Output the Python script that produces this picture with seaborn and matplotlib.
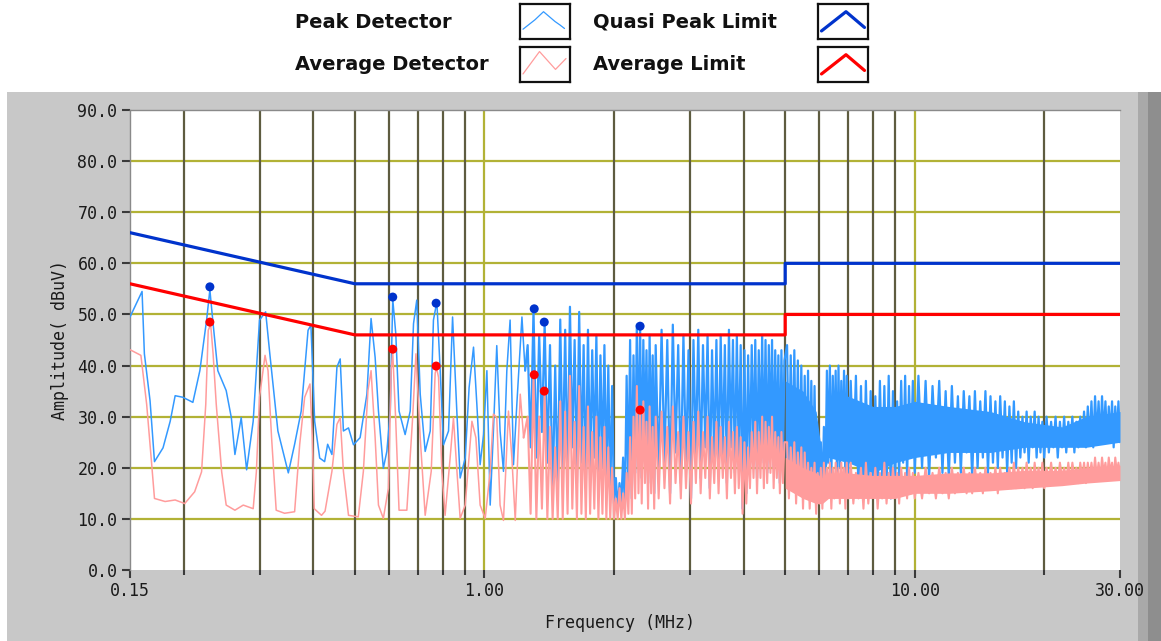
import matplotlib
matplotlib.use("Agg")
import matplotlib.pyplot as plt
from matplotlib.patches import Rectangle
from matplotlib.ticker import FixedLocator, NullFormatter
import pandas as pd
import seaborn as sns


# scan below 1.25 MHz, read peak by peak from the trace
lf_peak_freq = [0.150, 0.160, 0.162, 0.167, 0.171, 0.179, 0.186, 0.191, 0.199, 0.210,
                0.218, 0.226, 0.230, 0.234, 0.240, 0.251, 0.258, 0.263, 0.272, 0.280,
                0.290, 0.300, 0.310, 0.317, 0.331, 0.350, 0.362, 0.375, 0.389, 0.395,
                0.403, 0.414, 0.425, 0.432, 0.442, 0.454, 0.462, 0.470, 0.483, 0.496,
                0.514, 0.533, 0.545, 0.557, 0.567, 0.582, 0.593, 0.604, 0.612, 0.622,
                0.633, 0.654, 0.672, 0.684, 0.696, 0.709, 0.728, 0.748, 0.761, 0.775,
                0.789, 0.803, 0.825, 0.843, 0.863, 0.878, 0.902, 0.921, 0.943, 0.960,
                0.977, 0.995, 1.013, 1.031, 1.049, 1.068, 1.087, 1.107, 1.127, 1.147,
                1.168, 1.189, 1.222, 1.243]
lf_peak_dbuv = [49.5, 54.5, 42.3, 33.1, 21.2, 23.9, 29.1, 34.1, 33.8, 32.8,
                39.0, 48.9, 54.8, 48.2, 39.0, 35.1, 29.8, 22.6, 29.8, 19.6,
                29.1, 48.9, 50.5, 42.3, 27.2, 19.0, 24.6, 31.1, 46.9, 47.9,
                29.1, 21.9, 21.2, 24.6, 22.6, 39.7, 41.3, 27.2, 27.8, 24.5,
                25.9, 34.4, 49.2, 41.6, 31.1, 19.9, 23.2, 31.1, 53.0, 46.3,
                31.1, 26.5, 31.1, 48.2, 52.8, 34.4, 23.2, 27.2, 48.9, 52.5,
                39.0, 24.5, 27.2, 49.5, 30.5, 18.0, 21.9, 35.7, 43.6, 32.4,
                20.6, 26.5, 39.0, 12.7, 27.2, 43.9, 27.2, 19.3, 39.0, 48.9,
                20.6, 32.4, 49.5, 39.0]

lf_avg_freq = [0.150, 0.159, 0.164, 0.168, 0.171, 0.181, 0.191, 0.201, 0.212, 0.220,
               0.225, 0.228, 0.231, 0.234, 0.238, 0.245, 0.251, 0.263, 0.275, 0.290,
               0.295, 0.300, 0.309, 0.314, 0.320, 0.328, 0.343, 0.362, 0.372, 0.382,
               0.393, 0.398, 0.402, 0.418, 0.426, 0.442, 0.454, 0.462, 0.470, 0.483,
               0.509, 0.523, 0.536, 0.545, 0.557, 0.567, 0.582, 0.598, 0.607, 0.612,
               0.622, 0.633, 0.660, 0.680, 0.693, 0.709, 0.728, 0.752, 0.768, 0.774,
               0.782, 0.796, 0.810, 0.832, 0.847, 0.863, 0.878, 0.902, 0.935, 0.955,
               0.977, 1.004, 1.031, 1.049, 1.068, 1.087, 1.107, 1.137, 1.158, 1.179,
               1.211, 1.233]
lf_avg_dbuv = [43.1, 42.0, 32.4, 21.9, 14.0, 13.4, 13.7, 13.0, 15.3, 19.2,
               32.4, 46.9, 48.0, 42.3, 32.4, 19.2, 12.7, 11.7, 12.7, 12.0,
               19.2, 33.8, 42.0, 39.0, 25.9, 11.7, 11.1, 11.4, 24.6, 33.8,
               36.4, 25.9, 12.0, 10.7, 11.5, 19.3, 28.5, 29.8, 19.3, 10.7,
               10.4, 19.3, 35.1, 39.0, 25.9, 12.7, 10.1, 16.0, 39.0, 42.6,
               29.1, 11.7, 11.7, 29.1, 42.3, 25.9, 10.7, 19.3, 38.5, 39.5,
               37.7, 19.3, 10.7, 21.9, 29.8, 19.3, 10.1, 12.7, 29.1, 25.9,
               12.7, 10.1, 19.3, 30.5, 29.8, 12.7, 9.7, 31.1, 21.9, 9.7,
               34.4, 25.9]

# dense part of the scan, both detectors on the same frequencies
hf_freq = [1.26, 1.28, 1.30, 1.32, 1.34, 1.36, 1.38, 1.40, 1.42, 1.44, 1.46, 1.48, 1.50,
           1.52, 1.54, 1.56, 1.58, 1.60, 1.62, 1.64, 1.66, 1.68, 1.70, 1.72, 1.74, 1.76,
           1.78, 1.80, 1.82, 1.84, 1.86, 1.88, 1.90, 1.92, 1.94, 1.96, 1.98, 2.00,
           2.02, 2.04, 2.06, 2.08, 2.10, 2.12, 2.14, 2.16, 2.18, 2.20, 2.22, 2.24, 2.26,
           2.28, 2.30, 2.32, 2.34, 2.36, 2.38, 2.40, 2.42, 2.44, 2.46, 2.48, 2.50,
           2.54, 2.58, 2.62, 2.66, 2.70, 2.74, 2.78, 2.82, 2.86, 2.90,
           2.94, 2.98, 3.02, 3.06, 3.10, 3.14, 3.18, 3.22, 3.26, 3.30,
           3.34, 3.38, 3.42, 3.46, 3.50, 3.54, 3.58, 3.62, 3.66, 3.70,
           3.74, 3.78, 3.82, 3.86, 3.90, 3.94, 3.98, 4.02, 4.06, 4.10,
           4.14, 4.18, 4.22, 4.26, 4.30, 4.34, 4.38, 4.42, 4.46, 4.50,
           4.54, 4.58, 4.62, 4.66, 4.70, 4.74, 4.78, 4.82, 4.86, 4.90, 4.94, 4.98,
           5.05, 5.10, 5.15, 5.20, 5.25, 5.30, 5.35, 5.40, 5.45, 5.50,
           5.55, 5.60, 5.65, 5.70, 5.75, 5.80, 5.85, 5.90, 5.95, 6.00,
           6.05, 6.10, 6.15, 6.20, 6.25, 6.30, 6.35, 6.40, 6.45, 6.50,
           6.55, 6.60, 6.65, 6.70, 6.75, 6.80, 6.85, 6.90, 6.95, 7.00,
           7.1, 7.2, 7.3, 7.4, 7.5, 7.6, 7.7, 7.8, 7.9, 8.0,
           8.1, 8.2, 8.3, 8.4, 8.5, 8.6, 8.7, 8.8, 8.9, 9.0,
           9.1, 9.2, 9.3, 9.4, 9.5, 9.6, 9.7, 9.8, 9.9, 10.0,
           10.2, 10.4, 10.6, 10.8, 11.0, 11.2, 11.4, 11.6, 11.8, 12.0,
           12.2, 12.4, 12.6, 12.8, 13.0, 13.2, 13.4, 13.6, 13.8, 14.0,
           14.2, 14.4, 14.6, 14.8, 15.0, 15.2, 15.4, 15.6, 15.8, 16.0,
           16.2, 16.4, 16.6, 16.8, 17.0, 17.2, 17.4, 17.6, 17.8, 18.0,
           18.2, 18.4, 18.6, 18.8, 19.0, 19.2, 19.4, 19.6, 19.8, 20.0,
           20.25, 20.50, 20.75, 21.00, 21.25, 21.50, 21.75, 22.00, 22.25, 22.50,
           22.75, 23.00, 23.25, 23.50, 23.75, 24.00, 24.25, 24.50, 24.75, 25.00,
           25.25, 25.50, 25.75, 26.00, 26.25, 26.50, 26.75, 27.00, 27.25, 27.50,
           27.75, 28.00, 28.25, 28.50, 28.75, 29.00, 29.25, 29.50, 29.75, 30.00]
hf_peak_dbuv = [44, 24, 50.8, 22, 46, 27, 48.2, 21, 44, 14, 40, 15, 49,
                20, 47, 18, 51.5, 24, 45, 17, 50.5, 21, 44, 16, 47, 19,
                43, 22, 46, 15, 42, 20, 44, 17, 40, 14, 36, 13,
                18, 12, 17, 13, 22, 12, 38, 16, 45, 14, 42, 19, 48,
                22, 47.5, 18, 45, 25, 43, 17, 46, 20, 42, 15, 44,
                18, 47, 21, 45, 15, 48, 23, 44, 17, 46,
                20, 43, 14, 45, 22, 47, 18, 44, 24, 46,
                16, 43, 21, 45, 19, 46, 22, 44, 17, 47,
                24, 45, 19, 46, 21, 44, 12, 43, 15, 42,
                20, 44, 23, 45, 18, 43, 24, 46, 21, 45,
                19, 44, 25, 45, 20, 43, 22, 42, 17, 43, 21, 41,
                44, 19, 42, 20, 43, 18, 41, 17, 40, 16,
                38, 17, 39, 15, 37, 16, 36, 14, 27, 15,
                25, 14, 28, 16, 39, 21, 40, 18, 38, 23,
                39, 17, 40, 20, 37, 22, 39, 16, 38, 19,
                37, 21, 38, 15, 36, 14, 37, 16, 35, 15,
                34, 14, 37, 18, 36, 15, 38, 14, 35, 17,
                33, 18, 37, 21, 38, 18, 36, 22, 37, 19,
                38, 20, 37, 18, 36, 22, 37, 19, 35, 18,
                36, 21, 34, 19, 35, 23, 34, 18, 35, 20,
                33, 22, 35, 19, 34, 21, 33, 20, 34, 22,
                33, 19, 32, 21, 33, 20, 31, 22, 30, 23,
                31, 21, 30, 24, 31, 22, 30, 23, 29, 22,
                30, 23, 29, 24, 30, 22, 29, 24, 30, 23,
                29, 25, 30, 23, 29, 24, 30, 25, 31, 24,
                32, 25, 33, 24, 34, 26, 33, 25, 34, 26,
                33, 25, 32, 26, 33, 24, 32, 26, 33, 25]
hf_avg_dbuv = [30, 11, 37.8, 10, 30, 12, 34.6, 10, 28, 10, 24, 10, 33,
               10, 31, 11, 38, 12, 29, 10, 36, 11, 28, 10, 32, 11,
               27, 12, 30, 10, 26, 11, 28, 10, 24, 10, 20, 10,
               14, 10, 16, 10, 15, 10, 19, 11, 26, 11, 30, 14, 36,
               15, 31, 13, 33, 17, 29, 12, 32, 15, 28, 12, 30,
               14, 31, 16, 28, 13, 32, 17, 27, 14, 30,
               16, 27, 13, 29, 17, 31, 15, 27, 18, 30,
               14, 26, 17, 29, 15, 28, 18, 26, 14, 29,
               18, 27, 15, 28, 16, 26, 11, 25, 13, 24,
               16, 27, 18, 29, 15, 27, 18, 30, 16, 29,
               17, 28, 19, 30, 16, 27, 18, 26, 15, 27, 17, 25,
               25, 14, 24, 16, 25, 13, 23, 15, 24, 12,
               23, 14, 21, 12, 20, 15, 21, 11, 19, 13,
               20, 12, 21, 14, 20, 15, 21, 12, 20, 14,
               21, 15, 20, 13, 21, 15, 20, 12, 21, 14,
               21, 13, 19, 14, 20, 12, 21, 13, 19, 15,
               20, 12, 19, 14, 21, 13, 19, 14, 20, 15,
               19, 13, 20, 15, 19, 14, 20, 15, 19, 14,
               19, 14, 20, 15, 19, 14, 20, 15, 19, 14,
               20, 15, 19, 16, 20, 15, 19, 15, 20, 16,
               19, 15, 20, 16, 19, 16, 20, 15, 20, 16,
               19, 16, 20, 16, 21, 16, 20, 17, 20, 16,
               21, 17, 20, 16, 21, 17, 20, 17, 21, 16,
               20, 17, 21, 17, 20, 17, 21, 18, 20, 17,
               21, 17, 21, 18, 20, 17, 21, 18, 21, 17,
               21, 18, 21, 18, 22, 18, 21, 18, 22, 19,
               21, 18, 22, 19, 21, 18, 22, 19, 21, 19]

# core of the traces above 5 MHz where they look solid
band_freq = [5.0, 5.5, 5.9, 6.1, 6.3, 7.0, 8.0, 9.0, 10, 12, 15, 18, 22, 25, 30]
band_peak_hi = [37, 35, 31, 22, 34, 34, 32, 32, 33, 32, 31, 29, 28, 30, 31]
band_peak_lo = [22, 20, 19, 17, 22, 21, 19, 21, 22, 23, 23, 24, 24, 24, 25]
band_avg_hi = [22, 20, 19, 18, 19, 19, 18.5, 18.5, 18.5, 19, 19, 19.5, 19.5, 20, 20.5]
band_avg_lo = [16, 14, 13, 13, 14, 14, 14, 14, 15, 15, 15.5, 16, 16.5, 17, 17.5]

# limit lines
limit_freq = [0.15, 0.5, 5.0, 5.0, 30.0]
qp_limit_dbuv = [66, 56, 56, 60, 60]
avg_limit_dbuv = [56, 46, 46, 50, 50]

# final measurement points
meas_freq = [0.230, 0.612, 0.772, 1.305, 1.377, 2.30]
meas_qp_dbuv = [55.4, 53.4, 52.2, 51.1, 48.5, 47.7]
meas_avg_dbuv = [48.5, 43.2, 39.9, 38.2, 35.0, 31.3]

y_ticks = [0, 10, 20, 30, 40, 50, 60, 70, 80, 90]
y_grid = [10, 20, 30, 40, 50, 60, 70, 80]
x_ticks = [0.15, 1.0, 10.0, 30.0]
x_tick_labels = ["0.15", "1.00", "10.00", "30.00"]
minor_grid = [0.2, 0.3, 0.4, 0.5, 0.6, 0.7, 0.8, 0.9, 2, 3, 4, 5, 6, 7, 8, 9, 20]
major_grid = [1, 10]

PEAK = "#3399ff"
AVG = "#ff9c9c"
QP_LIM = "#0033cc"
AVG_LIM = "#ff0000"
GRID_MAJOR = "#b2b236"
GRID_MINOR = "#5e5c40"
PANEL = "#c8c8c8"

W, H = 1161, 641

sns.set_style("white")
plt.rcParams["font.family"] = ["DejaVu Sans Mono", "DejaVu Sans"]

n_peak_lf = len(lf_peak_freq)
n_avg_lf = len(lf_avg_freq)
peak_df = pd.DataFrame({"freq": lf_peak_freq + hf_freq, "dbuv": lf_peak_dbuv + hf_peak_dbuv})
avg_df = pd.DataFrame({"freq": lf_avg_freq + hf_freq, "dbuv": lf_avg_dbuv + hf_avg_dbuv})
meas_df = pd.DataFrame({"freq": meas_freq, "qp": meas_qp_dbuv, "avg": meas_avg_dbuv})

fig = plt.figure(figsize=(W / 100, H / 100), dpi=100)
fig.patch.set_facecolor("white")

# grey panel around the graph
fig.add_artist(Rectangle((7 / W, 0), 1, 549 / H, transform=fig.transFigure,
                         facecolor=PANEL, edgecolor="none", zorder=0))
fig.add_artist(Rectangle((1138 / W, 0), 23 / W, 549 / H, transform=fig.transFigure,
                         facecolor="#a9a9a9", edgecolor="none", zorder=0))
fig.add_artist(Rectangle((1148 / W, 0), 13 / W, 549 / H, transform=fig.transFigure,
                         facecolor="#8e8e8e", edgecolor="none", zorder=0))

ax = fig.add_axes([130 / W, 71 / H, 990 / W, 460 / H])
ax.set_facecolor("white")
ax.set_xscale("log")

for v in y_grid:
    ax.axhline(v, color=GRID_MAJOR, lw=1.6, zorder=1)
for f in minor_grid:
    ax.axvline(f, color=GRID_MINOR, lw=1.6, zorder=1)
for f in major_grid:
    ax.axvline(f, color=GRID_MAJOR, lw=1.6, zorder=1)

# the sparse start of each trace is thin, the dense scan looks heavier
ax.fill_between(band_freq, band_peak_lo, band_peak_hi, color=PEAK, lw=0, zorder=2)
sns.lineplot(data=peak_df.iloc[:n_peak_lf], x="freq", y="dbuv", ax=ax, color=PEAK,
             lw=1.1, estimator=None, sort=False, zorder=3)
sns.lineplot(data=peak_df.iloc[n_peak_lf - 1:], x="freq", y="dbuv", ax=ax, color=PEAK,
             lw=1.6, estimator=None, sort=False, zorder=3)
ax.fill_between(band_freq, band_avg_lo, band_avg_hi, color=AVG, lw=0, zorder=4)
sns.lineplot(data=avg_df.iloc[:n_avg_lf], x="freq", y="dbuv", ax=ax, color=AVG,
             lw=1.1, estimator=None, sort=False, zorder=5)
sns.lineplot(data=avg_df.iloc[n_avg_lf - 1:], x="freq", y="dbuv", ax=ax, color=AVG,
             lw=1.5, estimator=None, sort=False, zorder=5)

ax.plot(limit_freq, qp_limit_dbuv, color=QP_LIM, lw=2.3, zorder=6)
ax.plot(limit_freq, avg_limit_dbuv, color=AVG_LIM, lw=2.3, zorder=6)

sns.scatterplot(data=meas_df, x="freq", y="qp", ax=ax, color=QP_LIM, s=42,
                edgecolor="none", zorder=7)
sns.scatterplot(data=meas_df, x="freq", y="avg", ax=ax, color=AVG_LIM, s=42,
                edgecolor="none", zorder=7)

ax.set_xlim(0.15, 30)
ax.set_ylim(0, 90)
ax.set_xticks(x_ticks)
ax.set_xticklabels(x_tick_labels)
ax.xaxis.set_minor_locator(FixedLocator(minor_grid))
ax.xaxis.set_minor_formatter(NullFormatter())
ax.set_yticks(y_ticks)
ax.set_yticklabels([f"{v:.1f}" for v in y_ticks])
ax.tick_params(axis="both", which="major", direction="out", length=6, width=1.5,
               color="#3a3a3a", labelsize=12, labelcolor="#1a1a1a", pad=3,
               bottom=True, left=True)
ax.tick_params(axis="x", which="minor", direction="out", length=3.5, width=1.5,
               color="#3a3a3a", bottom=True)

for side in ["right", "bottom"]:
    ax.spines[side].set_visible(False)
for side in ["left", "top"]:
    ax.spines[side].set_color("#8a8a8a")
    ax.spines[side].set_linewidth(1)

ax.set_xlabel("Frequency (MHz)", fontsize=12, color="#1a1a1a")
ax.set_ylabel("Amplitude( dBuV)", fontsize=12, color="#1a1a1a")
ax.xaxis.set_label_coords(0.495, -0.115)
ax.xaxis.label.set_va("center")
ax.yaxis.set_label_coords(-0.0707, 0.5)
ax.yaxis.label.set_va("center")

# legend: name on the left, boxed sample on the right
legend_rows = [
    ("Peak Detector", 295, 22, 520, PEAK, 0.9, [0.06, 0.3, 0.47, 0.7, 0.8, 0.89], [0.28, 0.55, 0.78, 0.5, 0.4, 0.3]),
    ("Average Detector", 295, 65, 520, AVG, 0.9, [0.06, 0.39, 0.71, 0.92], [0.23, 0.87, 0.36, 0.67]),
    ("Quasi Peak Limit", 593, 22, 818, QP_LIM, 2.3, [0.07, 0.56, 0.93], [0.23, 0.78, 0.33]),
    ("Average Limit", 593, 65, 818, AVG_LIM, 2.3, [0.07, 0.56, 0.93], [0.23, 0.78, 0.33]),
]
for name, tx, ty, bx, color, lw, gx, gy in legend_rows:
    fig.text(tx / W, 1 - ty / H, name, fontsize=14, fontweight="bold",
             family="DejaVu Sans", ha="left", va="center", color="#111111")
    box = fig.add_axes([bx / W, 1 - (ty + 17) / H, 50 / W, 35 / H])
    box.set_xlim(0, 1)
    box.set_ylim(0, 1)
    box.set_xticks([])
    box.set_yticks([])
    for sp in box.spines.values():
        sp.set_color("#111111")
        sp.set_linewidth(1.6)
    box.plot(gx, gy, color=color, lw=lw)

fig.savefig("out.png", dpi=100)
